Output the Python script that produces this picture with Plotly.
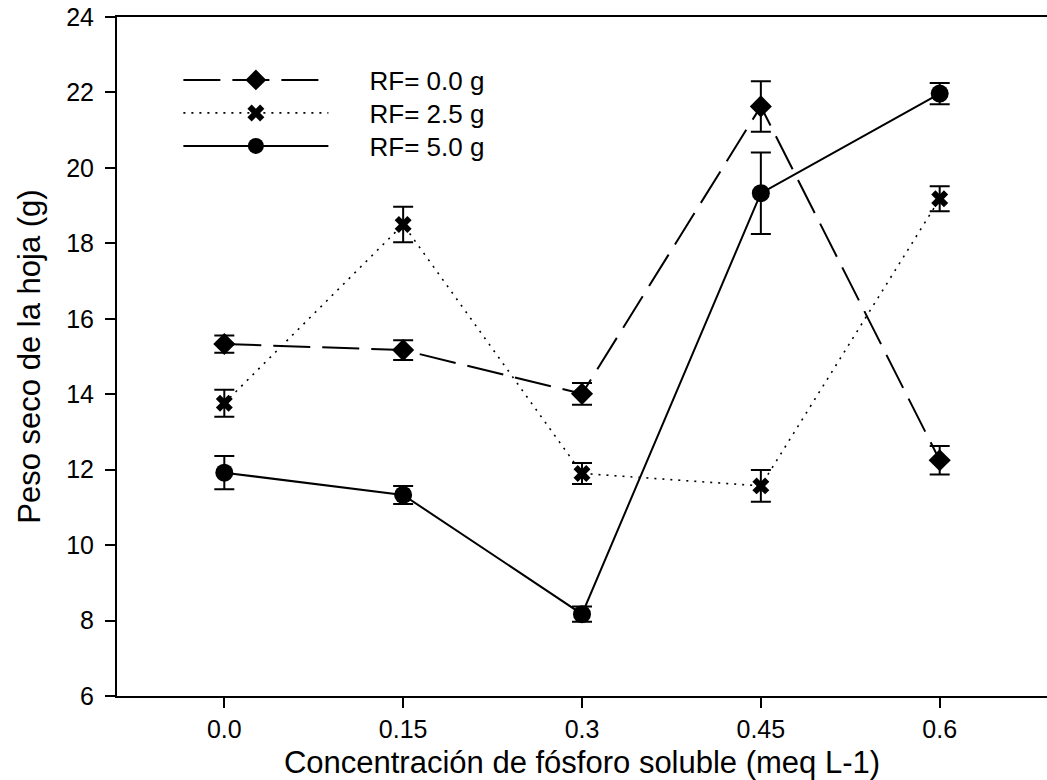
import plotly.graph_objects as go

x_vals = [0.0, 0.15, 0.3, 0.45, 0.6]
x_ticktext = ["0.0", "0.15", "0.3", "0.45", "0.6"]
y_tickvals = [6, 8, 10, 12, 14, 16, 18, 20, 22, 24]

rf00 = [15.33, 15.17, 14.01, 21.63, 12.25]
rf00_err = [0.23, 0.26, 0.29, 0.67, 0.38]
rf25 = [13.76, 18.50, 11.90, 11.57, 19.18]
rf25_err = [0.36, 0.47, 0.28, 0.42, 0.33]
rf50 = [11.92, 11.33, 8.17, 19.33, 21.97]
rf50_err = [0.44, 0.24, 0.20, 1.08, 0.28]

names = ["RF= 0.0 g", "RF= 2.5 g", "RF= 5.0 g"]

FONT = "Arial, Liberation Sans, sans-serif"
PAD = "\u00a0" * 5

fig = go.Figure()

def err(a):
    return dict(type="data", array=a, visible=True, color="black", thickness=2, width=10)

fig.add_trace(go.Scatter(
    x=x_vals, y=rf00, name=PAD + names[0], mode="lines+markers", legend="legend",
    line=dict(color="black", width=2, dash="37px,12px"),
    marker=dict(symbol="diamond", size=17, color="black"),
    error_y=err(rf00_err),
))
fig.add_trace(go.Scatter(
    x=x_vals, y=rf25, name=PAD + names[1], mode="lines+markers", legend="legend2",
    line=dict(color="black", width=1.6, dash="2px,6px"),
    marker=dict(symbol="x", size=15, color="black"),
    error_y=err(rf25_err),
))
fig.add_trace(go.Scatter(
    x=x_vals, y=rf50, name=PAD + names[2], mode="lines+markers", legend="legend3",
    line=dict(color="black", width=2),
    marker=dict(symbol="circle", size=18, color="black"),
    error_y=err(rf50_err),
))

def leg(yc):
    return dict(
        x=0.066, y=yc, xanchor="left", yanchor="middle",
        bgcolor="rgba(0,0,0,0)", borderwidth=0,
        font=dict(family=FONT, size=26, color="black"),
        itemwidth=145,
    )

fig.update_layout(
    width=1047, height=780,
    margin=dict(l=117, r=0, t=17, b=84),
    paper_bgcolor="white", plot_bgcolor="white",
    font=dict(family=FONT, color="black", size=25),
    showlegend=True,
    legend=leg(0.9072),
    legend2=leg(0.8586),
    legend3=leg(0.8100),
    xaxis=dict(
        range=[-0.09, 0.69], tickmode="array", tickvals=x_vals, ticktext=x_ticktext,
        showgrid=False, zeroline=False, showline=True, linecolor="black", linewidth=2,
        mirror=True, ticks="outside", ticklen=10, tickwidth=2, tickcolor="black",
        tickfont=dict(family=FONT, size=25, color="black"), ticklabelstandoff=0,
        title=dict(text="Concentración de fósforo soluble (meq L-1)",
                   font=dict(family=FONT, size=31, color="black"), standoff=10),
    ),
    yaxis=dict(
        range=[6, 24], tickmode="array", tickvals=y_tickvals,
        showgrid=False, zeroline=False, showline=True, linecolor="black", linewidth=2,
        ticks="outside", ticklen=10, tickwidth=2, tickcolor="black",
        tickfont=dict(family=FONT, size=25, color="black"), ticklabelstandoff=6,
        title=dict(text="Peso seco de la hoja (g)",
                   font=dict(family=FONT, size=31, color="black"), standoff=16),
    ),
)

fig.write_html("out.html")
